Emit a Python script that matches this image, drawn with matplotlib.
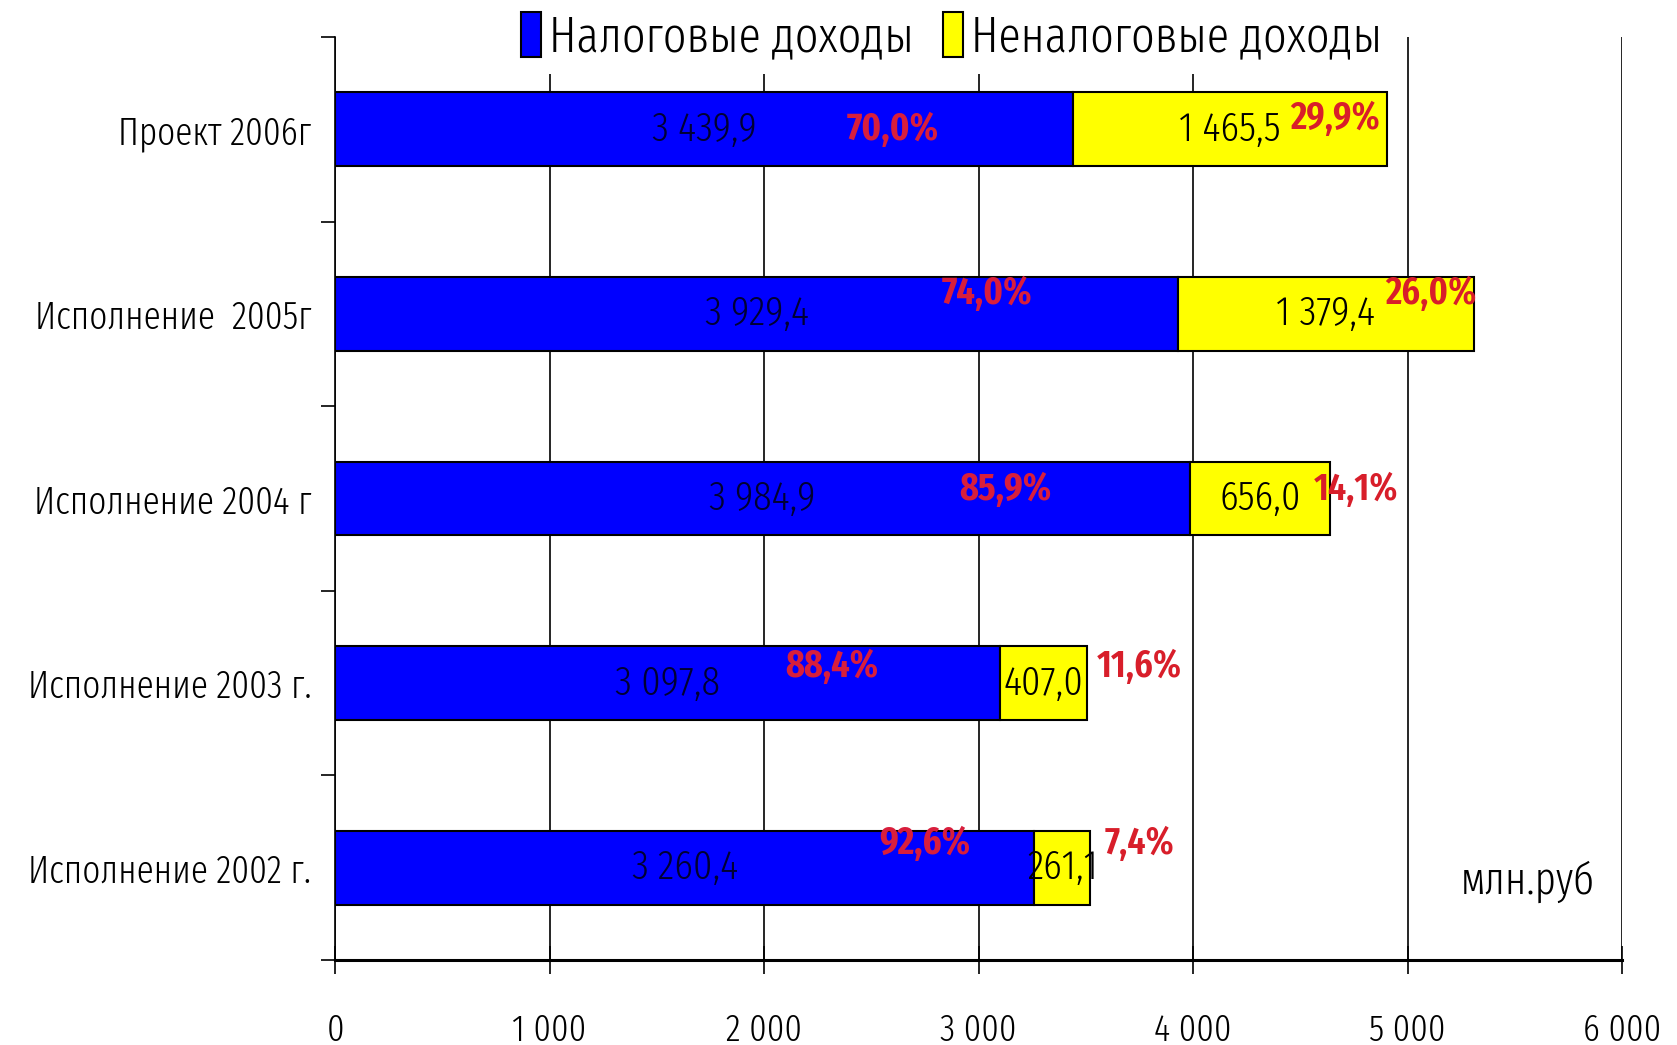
import matplotlib
matplotlib.use("Agg")
import matplotlib.pyplot as plt
from matplotlib.ticker import FuncFormatter, FixedLocator

# данные (снизу вверх)
kategorii = ["Исполнение 2002 г.", "Исполнение 2003 г.", "Исполнение 2004 г",
             "Исполнение  2005г", "Проект 2006г"]
nalogovye = [3260.4, 3097.8, 3984.9, 3929.4, 3439.9]
nenalogovye = [261.1, 407.0, 656.0, 1379.4, 1465.5]
proc_nalog = ["92,6%", "88,4%", "85,9%", "74,0%", "70,0%"]
proc_nenalog = ["7,4%", "11,6%", "14,1%", "26,0%", "29,9%"]

# gde stoje procenti (x u mln, pomak po y)
px_nalog = [2751, 2317, 3125, 3040, 2601]
dy_nalog = [0.13, 0.09, 0.05, 0.11, 0.0]
px_nenalog = [3752, 3752, 4759, 5108, 4660]
dy_nenalog = [0.13, 0.09, 0.05, 0.11, 0.06]

font = "Fira Sans Extra Condensed"
plt.rcParams['font.family'] = [font, 'DejaVu Sans']

def fmt(v):
    return f"{v:,.1f}".replace(",", " ").replace(".", ",")

fig = plt.figure(figsize=(16.77, 10.45), dpi=100)
ax = fig.add_axes([0.1998, 0.0813, 0.7674, 0.8833])

y = list(range(len(kategorii)))
b1 = ax.barh(y, nalogovye, height=0.4, color="#0000ff", edgecolor="black",
             linewidth=1.5, label="Налоговые доходы", zorder=3)
b2 = ax.barh(y, nenalogovye, left=nalogovye, height=0.4, color="#ffff00",
             edgecolor="black", linewidth=1.5, label="Неналоговые доходы", zorder=3)

for i in y:
    ax.text(nalogovye[i] / 2, i, fmt(nalogovye[i]), ha="center", va="center",
            fontsize=30, color="#000033", fontweight=300, zorder=5)
    ax.text(nalogovye[i] + nenalogovye[i] / 2, i, fmt(nenalogovye[i]), ha="center",
            va="center", fontsize=30, color="black", fontweight=300, zorder=5)
    ax.text(px_nalog[i], i + dy_nalog[i], proc_nalog[i], ha="center", va="center",
            fontsize=28, color="#d81e3c", fontweight="bold", zorder=5)
    ax.text(px_nenalog[i], i + dy_nenalog[i], proc_nenalog[i], ha="center", va="center",
            fontsize=28, color="#d81e2a", fontweight=600, zorder=5)

ax.set_xlim(0, 6000)
ax.set_ylim(-0.5, 4.5)
ax.set_xticks(range(0, 6001, 1000))
ax.xaxis.set_major_formatter(FuncFormatter(lambda v, p: f"{int(v):,}".replace(",", " ")))
ax.set_yticks(y)
ax.set_yticklabels(kategorii)
ax.yaxis.set_minor_locator(FixedLocator([-0.5, 0.5, 1.5, 2.5, 3.5, 4.5]))
ax.tick_params(axis="y", which="major", length=0, pad=17, labelsize=27.5)
ax.tick_params(axis="y", which="minor", length=10, width=1.2, direction="out")
ax.tick_params(axis="x", length=20, width=1.2, direction="inout", pad=28, labelsize=27)
for t in ax.get_xticklabels() + ax.get_yticklabels():
    t.set_fontweight(300)

ax.grid(axis="x", color="black", linewidth=1.2, zorder=0)
for s in ["top", "right"]:
    ax.spines[s].set_visible(False)
ax.spines["left"].set_linewidth(1.2)
ax.spines["bottom"].set_linewidth(2.2)

ax.text(0.927, 0.085, "млн.руб", transform=ax.transAxes, ha="center", va="center",
        fontsize=32, fontweight=300)

leg = ax.legend(loc="center", bbox_to_anchor=(0.479, 1.0), ncol=2, frameon=True,
                fontsize=36, handlelength=0.4, handleheight=1.0, handletextpad=0.15,
                columnspacing=0.6, borderpad=0.25, borderaxespad=0)
leg.get_frame().set_edgecolor("none")
leg.get_frame().set_facecolor("white")
leg.get_frame().set_alpha(1)
leg.set_zorder(10)
for t in leg.get_texts():
    t.set_fontweight(300)

fig.savefig("out.png")
